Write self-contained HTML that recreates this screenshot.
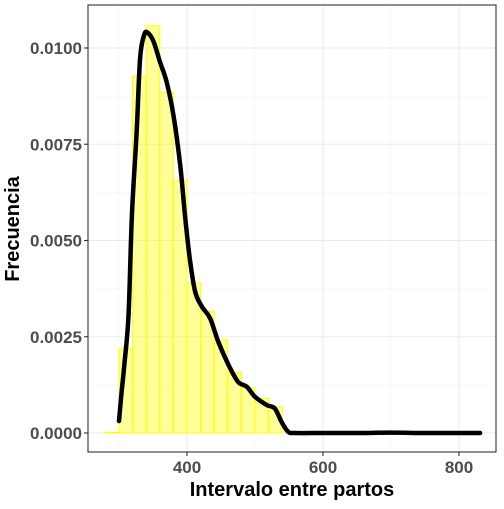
<!DOCTYPE html>
<html><head><style>body{margin:0;background:#fff}</style></head><body>
<svg id="c" width="504" height="504" xmlns="http://www.w3.org/2000/svg" font-family="Liberation Sans, sans-serif"></svg>
<script>
const binStarts=[280,300,320,340,360,380,400,420,440,460,480,500,520];
const binDensity=[0.00002,0.0022,0.00927,0.01058,0.00885,0.00657,0.0039,0.00317,0.00242,0.00158,0.00118,0.0009,0.00068];
const densX=[300,303,308,314,319,326,331,337,342,351,360,370,380,390,397,404,412,422,434,446,461,475,488,500,517,529,539,549,560,600,650,700,750,800,831];
const densY=[0.00031,0.00091,0.0018,0.00306,0.00566,0.00783,0.00973,0.01034,0.0104,0.01016,0.00965,0.00912,0.00826,0.00696,0.00566,0.00454,0.00367,0.00328,0.00298,0.00237,0.00177,0.00133,0.0012,0.00094,0.00073,0.00064,0.00029,0.00003,0,0,0,0.00001,0,0,0];
const xTicks=[400,600,800];
const yTicks=[0,0.0025,0.005,0.0075,0.01];
const yTickLabels=["0.0000","0.0025","0.0050","0.0075","0.0100"];
const binWidth=20;
const L=88,R=496,T=5,B=452;
const sx=v=>187+(v-400)*0.68;
const sy=v=>433-v*38500;
const svg=document.getElementById('c');
const NS='http://www.w3.org/2000/svg';
function mk(t,a,p){const e=document.createElementNS(NS,t);for(const k in a)e.setAttribute(k,a[k]);(p||svg).appendChild(e);return e;}
[300,500,700].forEach(v=>{const l=mk('line',{x1:sx(v),x2:sx(v),y1:T,y2:B,stroke:'#f3f3f3','stroke-width':0.6});

});
for(let i=0;i<yTicks.length-1;i++){const v=(yTicks[i]+yTicks[i+1])/2;const l=mk('line',{x1:L,x2:R,y1:sy(v),y2:sy(v),stroke:'#f3f3f3','stroke-width':0.6});

}
xTicks.forEach(v=>{const l=mk('line',{x1:sx(v),x2:sx(v),y1:T,y2:B,stroke:'#ebebeb','stroke-width':1.1});


const tk=mk('line',{x1:sx(v),x2:sx(v),y1:B,y2:B+4,stroke:'#333','stroke-width':1.1});


const t=mk('text',{x:sx(v),y:473,'text-anchor':'middle','font-size':17,'font-weight':'bold',fill:'#4d4d4d'});t.textContent=v;

});
yTicks.forEach((v,i)=>{const l=mk('line',{x1:L,x2:R,y1:sy(v),y2:sy(v),stroke:'#ebebeb','stroke-width':1.1});


const tk=mk('line',{x1:L-4,x2:L,y1:sy(v),y2:sy(v),stroke:'#333','stroke-width':1.1});


const t=mk('text',{x:82,y:sy(v)+6,'text-anchor':'end','font-size':17,'font-weight':'bold',fill:'#4d4d4d'});t.textContent=yTickLabels[i];

});
binStarts.forEach((s,i)=>{const x0=sx(s),x1=sx(s+binWidth),y=sy(binDensity[i]);
const r=mk('rect',{x:x0,y:y,width:x1-x0,height:sy(0)-y,fill:'#ffff00','fill-opacity':0.4,stroke:'#ffff00','stroke-width':1});

});
const pts=densX.map((x,i)=>[sx(x),sy(densY[i])]);
let d='M'+pts[0][0]+','+pts[0][1];
for(let i=0;i<pts.length-1;i++){const p0=pts[i-1]||pts[i],p1=pts[i],p2=pts[i+1],p3=pts[i+2]||p2;
d+='C'+(p1[0]+(p2[0]-p0[0])/6)+','+(p1[1]+(p2[1]-p0[1])/6)+' '+(p2[0]-(p3[0]-p1[0])/6)+','+(p2[1]-(p3[1]-p1[1])/6)+' '+p2[0]+','+p2[1];}
const p=mk('path',{d:d,fill:'none',stroke:'#000','stroke-width':4.5,'stroke-linejoin':'round','stroke-linecap':'round'});


const fr=mk('rect',{x:L,y:T,width:R-L,height:B-T,fill:'none',stroke:'#333','stroke-width':1.1});


const xt=mk('text',{x:292,y:496,'text-anchor':'middle','font-size':20,'font-weight':'bold',fill:'#000'});xt.textContent='Intervalo entre partos';


const yt=mk('text',{x:0,y:0,'text-anchor':'middle','font-size':20,'font-weight':'bold',fill:'#000',transform:'translate(19,229) rotate(-90)'});yt.textContent='Frecuencia';


</script>
</body></html>
